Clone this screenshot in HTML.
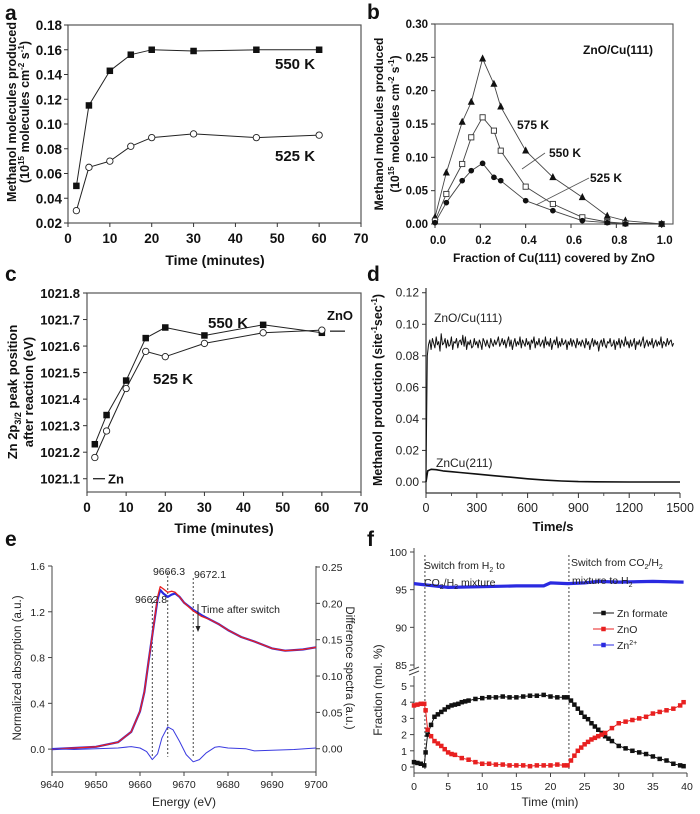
<!DOCTYPE html>
<html><head><meta charset="utf-8"><title>Methanol synthesis figure</title>
<style>
html,body{margin:0;padding:0;background:#fff;}
svg{display:block;}
.b{font-family:"Liberation Sans",Arial,sans-serif;font-weight:bold;fill:#111;}
.r{font-family:"Liberation Sans",Arial,sans-serif;fill:#222;}
</style></head>
<body>
<svg id="fig" width="700" height="814" viewBox="0 0 700 814" xmlns="http://www.w3.org/2000/svg"></svg>
<script>
// ---------- Panel a data ----------
const aTimes = [2,5,10,15,20,30,45,60];
const a550 = [0.050,0.115,0.143,0.156,0.160,0.159,0.160,0.160];
const a525 = [0.030,0.065,0.070,0.082,0.089,0.092,0.089,0.091];
const aYTicks = [0.02,0.04,0.06,0.08,0.10,0.12,0.14,0.16,0.18];
const aXTicks = [0,10,20,30,40,50,60,70];
// ---------- Panel b data ----------
const bFrac = [0,0.05,0.12,0.16,0.21,0.26,0.29,0.40,0.52,0.65,0.76,0.84,1.0];
const b575 = [0.010,0.077,0.153,0.183,0.248,0.210,0.176,0.110,0.070,0.040,0.012,0.005,0.000];
const b550 = [0.005,0.045,0.090,0.130,0.160,0.140,0.110,0.056,0.030,0.010,0.003,0.001,0.000];
const b525 = [0.002,0.032,0.065,0.080,0.091,0.070,0.065,0.035,0.020,0.005,0.002,0.000,0.000];
const bYTicks = [0,0.05,0.10,0.15,0.20,0.25,0.30];
const bXTicks = [0,0.2,0.4,0.6,0.8,1.0];
// ---------- Panel c data ----------
const cTimes = [2,5,10,15,20,30,45,60];
const c550 = [1021.23,1021.34,1021.47,1021.63,1021.67,1021.64,1021.68,1021.65];
const c525 = [1021.18,1021.28,1021.44,1021.58,1021.56,1021.61,1021.65,1021.66];
const cYTicks = [1021.1,1021.2,1021.3,1021.4,1021.5,1021.6,1021.7,1021.8];
const cXTicks = [0,10,20,30,40,50,60,70];
// ---------- Panel d data ----------
const dStep = 7.5;
const dZnO = [0.002,0.080,0.087,0.090,0.084,0.091,0.088,0.085,0.092,0.087,0.089,0.083,0.094,0.087,0.088,0.091,0.085,0.090,0.086,0.087,0.092,0.084,0.089,0.088,0.091,0.085,0.089,0.090,0.087,0.093,0.086,0.092,0.084,0.089,0.087,0.090,0.085,0.086,0.091,0.087,0.089,0.085,0.090,0.088,0.084,0.091,0.089,0.086,0.090,0.087,0.085,0.091,0.088,0.086,0.090,0.087,0.089,0.092,0.086,0.088,0.091,0.087,0.090,0.085,0.089,0.092,0.086,0.090,0.084,0.088,0.091,0.086,0.089,0.087,0.092,0.085,0.090,0.088,0.086,0.091,0.087,0.089,0.084,0.090,0.088,0.092,0.085,0.089,0.087,0.091,0.086,0.088,0.090,0.085,0.092,0.087,0.089,0.086,0.091,0.084,0.088,0.090,0.087,0.092,0.085,0.089,0.086,0.091,0.087,0.088,0.090,0.084,0.089,0.087,0.091,0.086,0.090,0.088,0.085,0.091,0.087,0.089,0.086,0.090,0.088,0.085,0.091,0.087,0.089,0.084,0.088,0.091,0.086,0.090,0.087,0.089,0.083,0.088,0.090,0.086,0.091,0.087,0.085,0.089,0.088,0.091,0.086,0.087,0.090,0.084,0.089,0.087,0.091,0.085,0.090,0.088,0.086,0.092,0.087,0.089,0.085,0.090,0.086,0.088,0.091,0.084,0.089,0.087,0.090,0.086,0.089,0.092,0.085,0.088,0.090,0.086,0.089,0.087,0.091,0.085,0.088,0.090,0.086,0.089,0.087,0.092,0.085,0.089,0.088,0.086,0.091,0.087,0.089,0.090,0.086,0.088];
const dZnCuT = [0,10,30,60,100,150,200,300,400,500,600,700,800,900,1000,1200,1500];
const dZnCuV = [0,0.007,0.008,0.0078,0.007,0.0065,0.006,0.005,0.004,0.003,0.002,0.0012,0.0006,0.0002,0.0001,0,0];
const dYTicks = [0,0.02,0.04,0.06,0.08,0.10,0.12];
const dXTicks = [0,300,600,900,1200,1500];
// ---------- Panel e data ----------
const eE = [9640,9645,9650,9655,9658,9660,9661,9662,9663,9664,9664.6,9665.3,9666.3,9667.2,9668,9669,9670,9672,9674,9676,9678,9680,9683,9686,9690,9693,9697,9700];
const eRed = [0.00,0.01,0.02,0.06,0.15,0.33,0.50,0.78,1.05,1.33,1.42,1.40,1.37,1.38,1.37,1.33,1.28,1.21,1.16,1.13,1.09,1.04,0.98,0.94,0.88,0.86,0.87,0.89];
const eBlue = [0.00,0.01,0.02,0.06,0.15,0.33,0.50,0.78,1.05,1.31,1.39,1.36,1.33,1.35,1.36,1.33,1.28,1.22,1.17,1.13,1.09,1.04,0.98,0.94,0.88,0.86,0.87,0.89];
const eDiffE = [9640,9645,9650,9655,9658,9660,9661.5,9662.8,9664,9665,9666.3,9667.5,9669,9670.5,9672.1,9673.5,9675,9677,9678,9680,9684,9686,9690,9695,9700];
const eDiff = [0.000,-0.001,0.000,0.001,0.003,0.001,-0.004,-0.015,-0.007,0.015,0.030,0.026,0.010,-0.008,-0.018,-0.015,-0.006,0.002,0.003,0.001,0.000,-0.003,-0.002,-0.001,0.001];
const eMarks = [9662.8,9666.3,9672.1];
const eYTicks = [0,0.4,0.8,1.2,1.6];
const eY2Ticks = [0,0.05,0.10,0.15,0.20,0.25];
const eXTicks = [9640,9650,9660,9670,9680,9690,9700];
// ---------- Panel f data ----------
const fFormT = [0,0.5,1,1.5,1.7,2,2.5,3,3.5,4,4.5,5,5.5,6,6.5,7,7.5,8,9,10,11,12,13,14,15,16,17,18,19,20,21,22,22.5,23,23.5,24,24.5,25,25.5,26,26.5,27,27.5,28,28.5,29,30,31,32,33,34,35,36,37,38,39,39.5];
const fFormV = [0.3,0.25,0.2,0.1,0.9,2.0,2.6,3.1,3.25,3.4,3.55,3.7,3.8,3.85,3.9,4.0,4.05,4.1,4.2,4.25,4.3,4.3,4.35,4.3,4.3,4.35,4.4,4.4,4.45,4.35,4.3,4.3,4.3,4.1,3.85,3.6,3.35,3.1,2.95,2.7,2.5,2.3,2.1,1.9,1.75,1.6,1.3,1.15,1.0,0.9,0.8,0.65,0.5,0.4,0.2,0.1,0.05];
const fZnOT = [0,0.5,1,1.5,1.7,2,2.5,3,3.5,4,4.5,5,5.5,6,7,8,9,10,11,12,13,14,15,16,17,18,19,20,21,22,22.5,23,23.5,24,24.5,25,25.5,26,26.5,27,27.5,28,29,30,31,32,33,34,35,36,37,38,39,39.5];
const fZnOV = [3.8,3.85,3.9,3.9,3.5,2.3,1.9,1.6,1.45,1.3,1.1,0.9,0.8,0.75,0.55,0.45,0.3,0.2,0.2,0.15,0.15,0.1,0.1,0.1,0.05,0.1,0.1,0.1,0.15,0.1,0.1,0.4,0.7,1.0,1.2,1.4,1.55,1.7,1.8,1.9,2.0,2.1,2.4,2.7,2.8,2.9,3.0,3.1,3.3,3.4,3.5,3.6,3.8,4.0];
const fZn2T = [0,2,5,10,15,19,20,22.5,25,27,30,35,39.5];
const fZn2V = [95.8,95.6,95.3,95.4,95.5,95.5,95.9,95.8,95.9,96.1,96.0,96.1,96.0];
const fSwitch = [1.6,22.7];
const fUpTicks = [85,90,95,100];
const fLoTicks = [0,1,2,3,4,5];
const fXTicks = [0,5,10,15,20,25,30,35,40];

const NS = "http://www.w3.org/2000/svg";
const svg = document.getElementById('fig');
function lin(d0,d1,r0,r1){return v => r0 + (v-d0)*(r1-r0)/(d1-d0);}
function mk(tag, attrs, name){
  const e = document.createElementNS(NS, tag);
  for (const k in attrs) e.setAttribute(k, attrs[k]);
  
  
  svg.appendChild(e);
  return e;
}
function txt(x,y,html,cls,size,anchor,name,rot,fill){
  const e = mk('text',{x:x,y:y,'class':cls,'font-size':size,'text-anchor':anchor||'start'},name);
  if (rot) e.setAttribute('transform','rotate('+rot+' '+x+' '+y+')');
  if (fill) e.setAttribute('fill', fill);
  e.innerHTML = html;
  return e;
}
function line(x1,y1,x2,y2,stroke,w,name,dash){
  const e = mk('line',{x1:x1,y1:y1,x2:x2,y2:y2,stroke:stroke,'stroke-width':w},name);
  if (dash) e.setAttribute('stroke-dasharray',dash);
  return e;
}
function poly(xs,ys,sx,sy,stroke,w,name){
  const pts = xs.map((x,i)=>sx(x).toFixed(1)+','+sy(ys[i]).toFixed(1)).join(' ');
  return mk('polyline',{points:pts,fill:'none',stroke:stroke,'stroke-width':w,'stroke-linejoin':'round'},name);
}
function marker(type,x,y,s,fill,stroke,name){
  if (type==='sq') return mk('rect',{x:x-s,y:y-s,width:2*s,height:2*s,fill:fill,stroke:stroke,'stroke-width':0.9},name);
  if (type==='ci') return mk('circle',{cx:x,cy:y,r:s,fill:fill,stroke:stroke,'stroke-width':0.9},name);
  if (type==='tr') return mk('polygon',{points:(x)+','+(y-s-1)+' '+(x-s-0.5)+','+(y+s)+' '+(x+s+0.5)+','+(y+s),fill:fill,stroke:stroke,'stroke-width':0.8},name);
}
const SUP = (s)=>'<tspan font-size="8" dy="-5">'+s+'</tspan>';

// ================= Panel a =================
(function(){
  const x = lin(0,70,68,361), y = lin(0.02,0.18,223,25);
  txt(5,20,'a','b',21,'start','panel-a-label');
  mk('rect',{x:68,y:25,width:293,height:198,fill:'none',stroke:'#555','stroke-width':1.2},'panel-a-frame');
  aYTicks.forEach(v=>{ line(64,y(v),68,y(v),'#333',1,'y-tick'); txt(62,y(v)+5,v.toFixed(2),'b',13.5,'end','y-tick-label'); });
  aXTicks.forEach(v=>{ line(x(v),223,x(v),227,'#333',1,'x-tick'); txt(x(v),243,String(v),'b',13.5,'middle','x-tick-label'); });
  txt(215,265,'Time (minutes)','b',14,'middle','x-axis-title');
  txt(16,112,'Methanol molecules produced','b',12.5,'middle','y-axis-title',-90);
  txt(29,112,'(10'+SUP('15')+'<tspan dy="5"> molecules cm</tspan>'+SUP('-2')+'<tspan dy="5"> s</tspan>'+SUP('-1')+'<tspan dy="5">)</tspan>','b',12.5,'middle','y-axis-title-units',-90);
  poly(aTimes,a550,x,y,'#222',1,'series-550k-line');
  poly(aTimes,a525,x,y,'#222',1,'series-525k-line');
  aTimes.forEach((t,i)=>marker('sq',x(t),y(a550[i]),2.8,'#111','#111','point-550k'));
  aTimes.forEach((t,i)=>marker('ci',x(t),y(a525[i]),3.2,'#fff','#222','point-525k'));
  txt(275,69,'550 K','b',15,'start','label-550k');
  txt(275,161,'525 K','b',15,'start','label-525k');
})();

// ================= Panel b =================
(function(){
  const x = lin(0,1.05,435,673), y = lin(0,0.30,224,24);
  txt(367,19,'b','b',21,'start','panel-b-label');
  mk('rect',{x:435,y:24,width:238,height:200,fill:'none',stroke:'#555','stroke-width':1.1},'panel-b-frame');
  bYTicks.forEach(v=>{ line(431,y(v),435,y(v),'#333',1,'y-tick'); txt(428,y(v)+4,v.toFixed(2),'b',11.5,'end','y-tick-label'); });
  bXTicks.forEach(v=>{ line(x(v),224,x(v),228,'#333',1,'x-tick'); txt(x(v)+3,244,v.toFixed(1),'b',11.5,'middle','x-tick-label'); });
  txt(554,262,'Fraction of Cu(111) covered by ZnO','b',12,'middle','x-axis-title');
  txt(383,124,'Methanol  molecules  produced','b',12,'middle','y-axis-title',-90);
  txt(399,124,'(10'+SUP('15')+'<tspan dy="5"> molecules cm</tspan>'+SUP('-2')+'<tspan dy="5"> s</tspan>'+SUP('-1')+'<tspan dy="5">)</tspan>','b',12,'middle','y-axis-title-units',-90);
  poly(bFrac,b575,x,y,'#444',0.9,'series-575k-line');
  poly(bFrac,b550,x,y,'#444',0.9,'series-550k-line');
  poly(bFrac,b525,x,y,'#444',0.9,'series-525k-line');
  bFrac.forEach((f,i)=>marker('tr',x(f),y(b575[i]),2.4,'#111','#111','point-575k'));
  bFrac.forEach((f,i)=>marker('sq',x(f),y(b550[i]),2.6,'#fff','#333','point-550k'));
  bFrac.forEach((f,i)=>marker('ci',x(f),y(b525[i]),2.4,'#111','#111','point-525k'));
  txt(583,54,'ZnO/Cu(111)','b',12,'start','annotation-znocu111');
  txt(517,129,'575 K','b',12,'start','label-575k');
  txt(549,157,'550 K','b',12,'start','label-550k');
  txt(590,182,'525 K','b',12,'start','label-525k');
  line(545,153,522,169,'#555',0.8,'leader-550k');
  line(589,178,536,205,'#555',0.8,'leader-525k');
})();

// ================= Panel c =================
(function(){
  const x = lin(0,70,87,361), y = lin(1021.05,1021.8,492,293);
  txt(5,281,'c','b',21,'start','panel-c-label');
  mk('rect',{x:87,y:293,width:274,height:199,fill:'none',stroke:'#555','stroke-width':1.2},'panel-c-frame');
  cYTicks.forEach(v=>{ line(83,y(v),87,y(v),'#333',1,'y-tick'); txt(80,y(v)+5,v.toFixed(1),'b',13,'end','y-tick-label'); });
  cXTicks.forEach(v=>{ line(x(v),492,x(v),496,'#333',1,'x-tick'); txt(x(v),512,String(v),'b',13.5,'middle','x-tick-label'); });
  txt(224,533,'Time (minutes)','b',14,'middle','x-axis-title');
  txt(17,392,'Zn 2p<tspan font-size="9" dy="4">3/2</tspan><tspan dy="-4"> peak position</tspan>','b',13,'middle','y-axis-title',-90);
  txt(33,392,'after reaction (eV)','b',13,'middle','y-axis-title-line2',-90);
  poly(cTimes,c550,x,y,'#222',1,'series-550k-line');
  poly(cTimes,c525,x,y,'#222',1,'series-525k-line');
  cTimes.forEach((t,i)=>marker('sq',x(t),y(c550[i]),2.8,'#111','#111','point-550k'));
  cTimes.forEach((t,i)=>marker('ci',x(t),y(c525[i]),3.2,'#fff','#222','point-525k'));
  txt(208,328,'550 K','b',15,'start','label-550k');
  txt(153,384,'525 K','b',15,'start','label-525k');
  txt(327,320,'ZnO','b',13,'start','label-zno-reference');
  line(330,y(1021.66)+1,345,y(1021.66)+1,'#111',1.2,'zno-reference-mark');
  line(93,y(1021.1),105,y(1021.1),'#111',1.2,'zn-reference-mark');
  txt(108,y(1021.1)+5,'Zn','b',13,'start','label-zn-reference');
})();

// ================= Panel d =================
(function(){
  const x = lin(0,1500,426,680), y = lin(-0.007,0.123,493,288);
  txt(367,281,'d','b',21,'start','panel-d-label');
  line(426,288,426,493,'#333',1.2,'y-axis-line');
  line(426,493,680,493,'#333',1.2,'x-axis-line');
  dYTicks.forEach(v=>{ line(422,y(v),426,y(v),'#333',1,'y-tick'); txt(419,y(v)+4,v.toFixed(2),'r',12,'end','y-tick-label'); });
  dXTicks.forEach(v=>{ line(x(v),493,x(v),498,'#333',1,'x-tick'); txt(x(v),512,String(v),'r',12.5,'middle','x-tick-label'); });
  for(let t=150;t<1500;t+=300){ line(x(t),493,x(t),496,'#333',0.8,'x-minor-tick'); }
  txt(553,531,'Time/s','b',13,'middle','x-axis-title');
  txt(382,390,'Methanol production (site'+SUP('-1')+'<tspan dy="5">sec</tspan>'+SUP('-1')+'<tspan dy="5">)</tspan>','b',12.5,'middle','y-axis-title',-90);
  const dT = dZnO.map((v,i)=>i*dStep);
  poly(dT,dZnO,x,y,'#111',1,'series-zno-cu111');
  poly(dZnCuT,dZnCuV,x,y,'#111',1.6,'series-zncu211');
  txt(434,322,'ZnO/Cu(111)','r',12,'start','label-zno-cu111');
  txt(436,467,'ZnCu(211)','r',12,'start','label-zncu211');
})();

// ================= Panel e =================
(function(){
  const x = lin(9640,9700,52,316), y = lin(-0.2,1.6,772,566), y2 = lin(-0.032,0.25,772,567);
  txt(5,546,'e','b',21,'start','panel-e-label');
  line(52,566,52,772,'#444',1,'left-y-axis');
  line(316,566,316,772,'#444',1,'right-y-axis');
  line(52,772,316,772,'#444',1,'x-axis-line');
  eYTicks.forEach(v=>{ line(48,y(v),52,y(v),'#444',1,'y-tick'); txt(45,y(v)+4,v.toFixed(1),'r',10.5,'end','y-tick-label',null,'#333'); });
  eY2Ticks.forEach(v=>{ line(316,y2(v),320,y2(v),'#444',1,'y2-tick'); txt(322,y2(v)+4,v.toFixed(2),'r',10.5,'start','y2-tick-label',null,'#333'); });
  eXTicks.forEach(v=>{ line(x(v),772,x(v),776,'#444',1,'x-tick'); txt(x(v),788,String(v),'r',10.5,'middle','x-tick-label',null,'#333'); });
  txt(184,806,'Energy (eV)','r',12,'middle','x-axis-title',null,'#222');
  txt(21,668,'Normalized absorption (a.u.)','r',11.5,'middle','y-axis-title',-90,'#222');
  txt(346,668,'Difference spectra (a.u.)','r',11.5,'middle','y2-axis-title',90,'#222');
  const tops = [598,572,578];
  eMarks.forEach((m,i)=>line(x(m),tops[i],x(m),y2(0)+8,'#444',1,'marker-line-'+m,'2,2'));
  poly(eE,eBlue,x,y,'#2a2ae0',2.2,'series-blue-absorption');
  poly(eE,eRed,x,y,'#e82020',1.3,'series-red-absorption');
  poly(eDiffE,eDiff,x,y2,'#3a3ae0',1,'series-difference-spectrum');
  txt(151,603,'9662.8','r',10.5,'middle','label-9662-8',null,'#222');
  txt(169,575,'9666.3','r',10.5,'middle','label-9666-3',null,'#222');
  txt(210,578,'9672.1','r',10.5,'middle','label-9672-1',null,'#222');
  line(198,604,198,628,'#222',1,'time-arrow-shaft');
  mk('polygon',{points:'195.5,626 200.5,626 198,632',fill:'#222'},'time-arrow-head');
  txt(201,613,'Time after switch','r',10.5,'start','label-time-after-switch',null,'#222');
})();

// ================= Panel f =================
(function(){
  const x = lin(0,40,414,687), yu = lin(85,100,665,552), yl = lin(0,5,767,686);
  txt(367,546,'f','b',21,'start','panel-f-label');
  line(414,548,414,668,'#444',1,'y-axis-upper');
  line(414,676,414,773,'#444',1,'y-axis-lower');
  line(409,671,419,667,'#444',1,'axis-break-1');
  line(409,675,419,671,'#444',1,'axis-break-2');
  line(414,773,687,773,'#444',1,'x-axis-line');
  fUpTicks.forEach(v=>{ line(410,yu(v),414,yu(v),'#444',1,'y-tick'); txt(407,yu(v)+4,String(v),'r',10.5,'end','y-tick-label',null,'#333'); });
  fLoTicks.forEach(v=>{ line(410,yl(v),414,yl(v),'#444',1,'y-tick'); txt(407,yl(v)+4,String(v),'r',10.5,'end','y-tick-label',null,'#333'); });
  fXTicks.forEach(v=>{ line(x(v),773,x(v),777,'#444',1,'x-tick'); txt(x(v),790,String(v),'r',10.5,'middle','x-tick-label',null,'#333'); });
  txt(550,806,'Time (min)','r',12,'middle','x-axis-title',null,'#222');
  txt(382,690,'Fraction (mol. %)','r',12,'middle','y-axis-title',-90,'#222');
  fSwitch.forEach(s=>line(x(s),555,x(s),770,'#444',1,'switch-line','2,2'));
  poly(fZn2T,fZn2V,x,yu,'#2a2ae0',3.2,'series-zn2plus');
  poly(fFormT,fFormV,x,yl,'#111',1,'series-zn-formate-line');
  poly(fZnOT,fZnOV,x,yl,'#e82020',1,'series-zno-line');
  fFormT.forEach((t,i)=>marker('sq',x(t),yl(fFormV[i]),1.8,'#111','#111','point-zn-formate'));
  fZnOT.forEach((t,i)=>marker('sq',x(t),yl(fZnOV[i]),1.8,'#e82020','#e82020','point-zno'));
  txt(424,569,'Switch from H<tspan font-size="7" dy="3">2</tspan><tspan dy="-3"> to</tspan>','r',10.5,'start','annotation-switch-1',null,'#222');
  txt(424,586,'CO<tspan font-size="7" dy="3">2</tspan><tspan dy="-3">/H</tspan><tspan font-size="7" dy="3">2</tspan><tspan dy="-3"> mixture</tspan>','r',10.5,'start','annotation-switch-1-line2',null,'#222');
  txt(571,566,'Switch from CO<tspan font-size="7" dy="3">2</tspan><tspan dy="-3">/H</tspan><tspan font-size="7" dy="3">2</tspan>','r',10.5,'start','annotation-switch-2',null,'#222');
  txt(572,584,'mixture to H<tspan font-size="7" dy="3">2</tspan>','r',10.5,'start','annotation-switch-2-line2',null,'#222');
  const lg = [['Zn formate','#111'],['ZnO','#e82020'],['Zn<tspan font-size="7" dy="-4">2+</tspan>','#2a2ae0']];
  lg.forEach((e,i)=>{
    const yy = 613 + i*16;
    line(593,yy,614,yy,e[1],1,'legend-line');
    marker('sq',603.5,yy,1.8,e[1],e[1],'legend-marker');
    txt(617,yy+4,e[0],'r',10.5,'start','legend-entry',null,'#222');
  });
})();
</script>
</body></html>
